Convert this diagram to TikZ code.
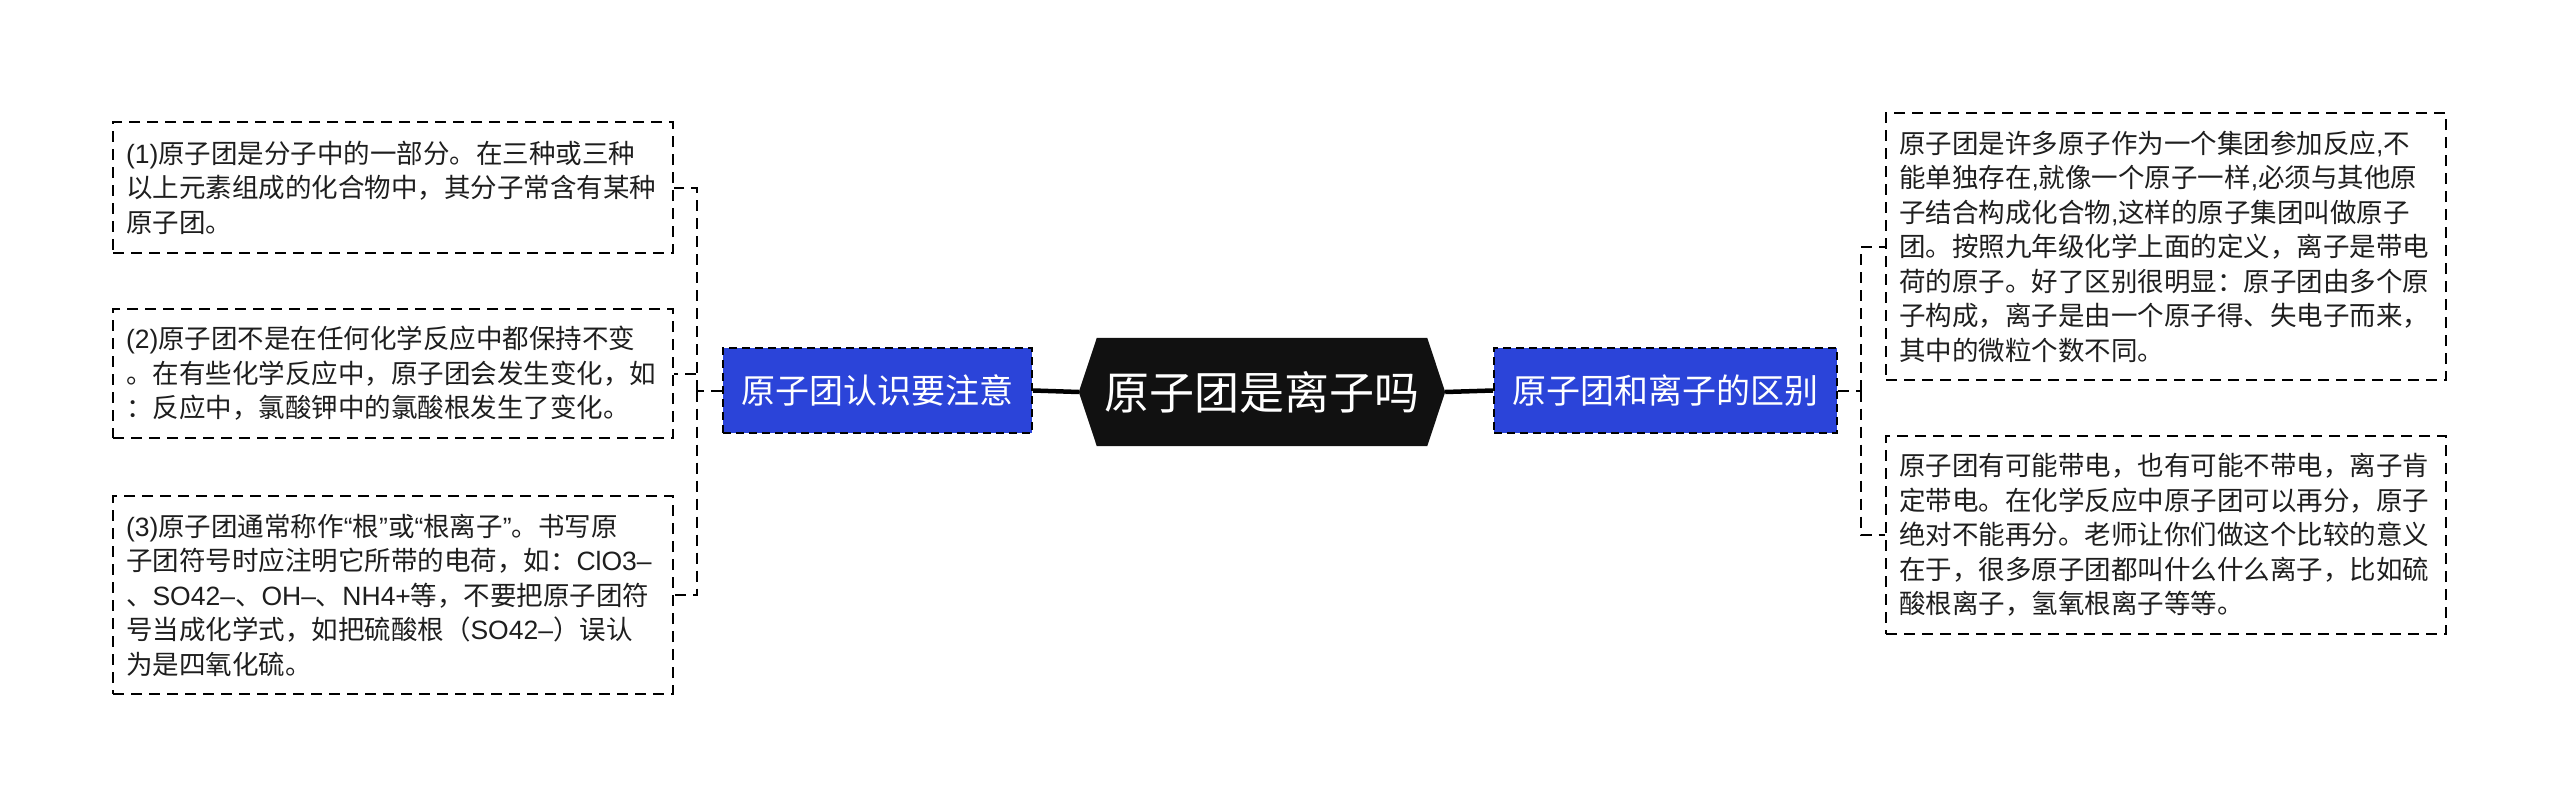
\documentclass[tikz,border=0pt]{standalone}
\usepackage{fontspec}
\setmainfont{Noto Sans CJK SC}
\newfontfamily\latfont{Liberation Sans}
\newcommand{\lat}[1]{{\latfont #1}}
\usetikzlibrary{backgrounds}
\definecolor{nodeblue}{HTML}{2B44D9}
\definecolor{boxtext}{HTML}{1E1E1E}
\definecolor{rootblack}{HTML}{111111}
\tikzset{
  leafbox/.style={draw=black, line width=2pt, dash pattern=on 11pt off 7pt,
    text=boxtext, text width=534pt, align=left, inner xsep=13pt, inner ysep=0pt,
    font=\fontsize{26.5pt}{34.5pt}\selectfont},
  bluebox/.style={draw=black, fill=nodeblue, line width=2pt, dash pattern=on 8pt off 5pt,
    text=white, inner sep=0pt, minimum height=85pt,
    font=\fontsize{34pt}{40pt}\selectfont},
  rootnode/.style={text=white, inner sep=0pt, minimum width=366pt, minimum height=108pt,
    font=\fontsize{45pt}{50pt}\selectfont},
  thickconn/.style={line width=4.5pt, black},
  dashconn/.style={line width=2pt, black, dash pattern=on 11pt off 7pt}
}
\begin{document}
\begin{tikzpicture}[x=1pt,y=-1pt]
\useasboundingbox (0,0) rectangle (2560,808);

% root
\node[rootnode] (root) at (1262,392) {原子团是离子吗};
\begin{scope}[on background layer]
\fill[rootblack] ([xshift=18pt]root.north west) -- ([xshift=-18pt]root.north east) -- (root.east)
  -- ([xshift=-18pt]root.south east) -- ([xshift=18pt]root.south west) -- (root.west) -- cycle;
\end{scope}

% branches
\node[bluebox, minimum width=309pt] (bl) at (877.5,390.5) {原子团认识要注意};
\node[bluebox, minimum width=343pt] (br) at (1665.5,390.5) {原子团和离子的区别};

% left leaves
\node[leafbox, minimum height=131pt] (l1) at (393,187.5) {\lat{(1)}原子团是分子中的一部分。在三种或三种\\以上元素组成的化合物中，其分子常含有某种\\原子团。};
\node[leafbox, minimum height=129pt] (l2) at (393,373.5) {\lat{(2)}原子团不是在任何化学反应中都保持不变\\。在有些化学反应中，原子团会发生变化，如\\：反应中，氯酸钾中的氯酸根发生了变化。};
\node[leafbox, minimum height=198pt] (l3) at (393,595) {\lat{(3)}原子团通常称作\lat{“}根\lat{”}或\lat{“}根离子\lat{”}。书写原\\子团符号时应注明它所带的电荷，如：\lat{ClO3–}\\、\lat{SO42–}、\lat{OH–}、\lat{NH4+}等，不要把原子团符\\号当成化学式，如把硫酸根（\lat{SO42–}）误认\\为是四氧化硫。};

% right leaves
\node[leafbox, minimum height=267pt] (r1) at (2166,246.5) {原子团是许多原子作为一个集团参加反应\lat{,}不\\能单独存在\lat{,}就像一个原子一样\lat{,}必须与其他原\\子结合构成化合物\lat{,}这样的原子集团叫做原子\\团。按照九年级化学上面的定义，离子是带电\\荷的原子。好了区别很明显：原子团由多个原\\子构成，离子是由一个原子得、失电子而来，\\其中的微粒个数不同。};
\node[leafbox, minimum height=198pt] (r2) at (2166,535) {原子团有可能带电，也有可能不带电，离子肯\\定带电。在化学反应中原子团可以再分，原子\\绝对不能再分。老师让你们做这个比较的意义\\在于，很多原子团都叫什么什么离子，比如硫\\酸根离子，氢氧根离子等等。};

% connectors
\draw[thickconn] (root.west) -- (bl.east);
\draw[thickconn] (root.east) -- (br.west);

\coordinate (jl) at (697,390.5);
\coordinate (jr) at (1861,390.5);
\draw[dashconn] (bl.west) -- (jl);
\draw[dashconn] (jl) |- (l1.east);
\draw[dashconn] (jl) |- (l2.east);
\draw[dashconn] (jl) |- (l3.east);
\draw[dashconn] (br.east) -- (jr);
\draw[dashconn] (jr) |- (r1.west);
\draw[dashconn] (jr) |- (r2.west);
\end{tikzpicture}
\end{document}
